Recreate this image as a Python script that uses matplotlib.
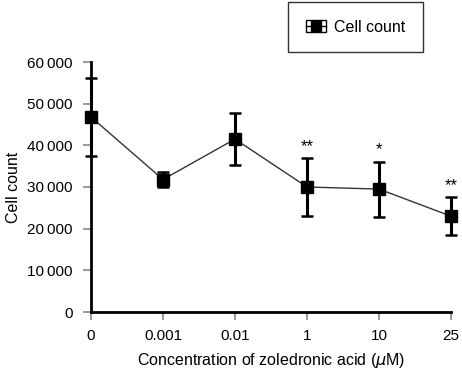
import matplotlib
matplotlib.use("Agg")
import matplotlib.pyplot as plt
from matplotlib.lines import Line2D
from matplotlib.patches import Rectangle
from matplotlib.legend_handler import HandlerBase

plt.rcParams['font.family'] = ['Liberation Sans', 'DejaVu Sans']

categories = ["0", "0.001", "0.01", "1", "10", "25"]
means = [46800, 31800, 41500, 30000, 29500, 23000]
errors = [9400, 1800, 6300, 7000, 6600, 4500]
stars = ["", "", "", "**", "*", "**"]
yticks = [0, 10000, 20000, 30000, 40000, 50000, 60000]
ytick_labels = ["0", "10\u2009000", "20\u2009000", "30\u2009000", "40\u2009000", "50\u2009000", "60\u2009000"]

fig = plt.figure(figsize=(4.62, 3.70), dpi=100)
ax = fig.add_axes([91/462, (370-312)/370, (451-91)/462, (312-62)/370])

x = list(range(len(categories)))
ax.plot(x, means, color='#333333', lw=1.0, zorder=2, clip_on=False)
ax.errorbar(x, means, yerr=errors, fmt='none', ecolor='black', elinewidth=2.2,
            capsize=4, capthick=1.8, zorder=3, clip_on=False)
ax.plot(x, means, linestyle='none', marker='s', markersize=8, color='black',
        zorder=4, clip_on=False)

for xi, m, e, s in zip(x, means, errors, stars):
    if s:
        ax.text(xi, m + e + 1000, s, ha='center', va='bottom', fontsize=12)

ax.set_xlim(0, 5)
ax.set_ylim(0, 60000)
ax.set_xticks(x)
ax.set_xticklabels(categories, fontsize=11)
ax.set_yticks(yticks)
ax.set_yticklabels(ytick_labels, fontsize=11)
ax.tick_params(axis='both', direction='out', length=6, width=1.2, color='#888888')
ax.tick_params(axis='y', pad=7)
ax.tick_params(axis='x', pad=6)

for side in ['top', 'right']:
    ax.spines[side].set_visible(False)
ax.spines['left'].set_linewidth(2.0)
ax.spines['bottom'].set_linewidth(2.0)

ax.set_ylabel("Cell count", fontsize=11.5, labelpad=5)
ax.set_xlabel("Concentration of zoledronic acid ($\\mu$M)", fontsize=11.5, labelpad=6)


class BoxHandler(HandlerBase):
    def create_artists(self, legend, orig_handle, xdescent, ydescent,
                       width, height, fontsize, trans):
        x0 = -xdescent
        y0 = -ydescent
        rect = Rectangle((x0, y0), width, height, facecolor='none',
                         edgecolor='black', lw=1.0, transform=trans)
        yc = y0 + height / 2
        mid = Line2D([x0, x0 + width], [yc, yc], color='black', lw=1.0,
                     transform=trans)
        sq = Line2D([x0 + width / 2], [yc], marker='s', markersize=7,
                    color='black', linestyle='none', transform=trans)
        return [rect, mid, sq]


handle = Line2D([], [], color='black', marker='s')
leg = fig.legend([handle], ["Cell count"],
                 handler_map={Line2D: BoxHandler()},
                 loc='upper left', bbox_to_anchor=(288/462, 1 - 2/370),
                 frameon=True, fancybox=False, fontsize=11.5, handlelength=1.25,
                 handleheight=0.8, handletextpad=0.55, borderpad=1.1,
                 edgecolor='black', borderaxespad=0)
leg.get_frame().set_linewidth(1.0)

fig.savefig("out.png", dpi=100)
